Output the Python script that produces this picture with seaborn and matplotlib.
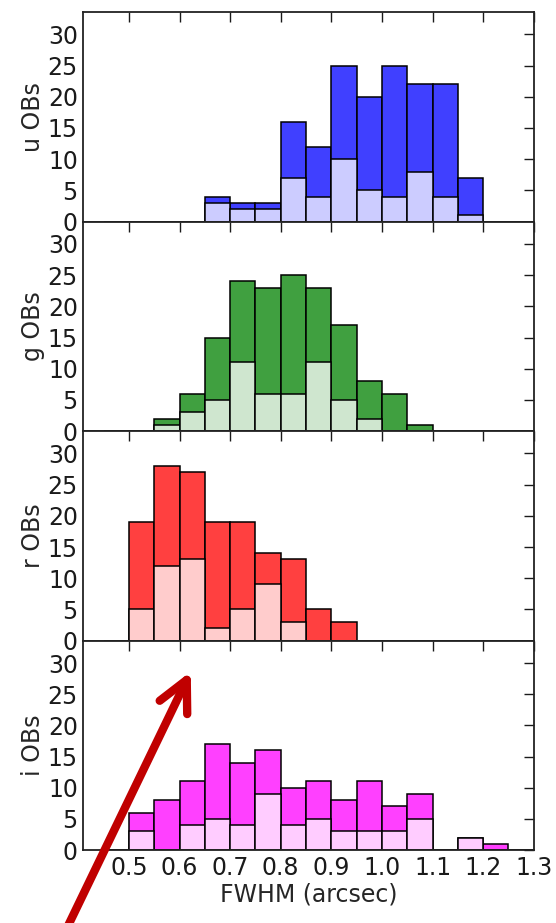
import numpy as np
import pandas as pd
import matplotlib
matplotlib.use("Agg")
import matplotlib.pyplot as plt
import seaborn as sns
from matplotlib.patches import FancyArrowPatch

# bin edges (arcsec)
edges = [0.45, 0.50, 0.55, 0.60, 0.65, 0.70, 0.75, 0.80, 0.85,
         0.90, 0.95, 1.00, 1.05, 1.10, 1.15, 1.20, 1.25, 1.30]

u_all = [0, 0, 0, 0, 4, 3, 3, 16, 12, 25, 20, 25, 22, 22, 7, 0, 0]
u_sub = [0, 0, 0, 0, 3, 2, 2, 7, 4, 10, 5, 4, 8, 4, 1, 0, 0]
g_all = [0, 0, 2, 6, 15, 24, 23, 25, 23, 17, 8, 6, 1, 0, 0, 0, 0]
g_sub = [0, 0, 1, 3, 5, 11, 6, 6, 11, 5, 2, 0, 0, 0, 0, 0, 0]
r_all = [0, 19, 28, 27, 19, 19, 14, 13, 5, 3, 0, 0, 0, 0, 0, 0, 0]
r_sub = [0, 5, 12, 13, 2, 5, 9, 3, 0, 0, 0, 0, 0, 0, 0, 0, 0]
i_all = [0, 6, 8, 11, 17, 14, 16, 10, 11, 8, 11, 7, 9, 0, 2, 1, 0]
i_sub = [0, 3, 0, 4, 5, 4, 9, 4, 5, 3, 3, 3, 5, 0, 2, 0, 0]

bands = ["u", "g", "r", "i"]
dark = ["#4040ff", "#40a040", "#ff4040", "#ff40ff"]
light = ["#ccccff", "#cfe6cf", "#ffcccc", "#ffccff"]
counts = [(u_all, u_sub), (g_all, g_sub), (r_all, r_sub), (i_all, i_sub)]

sns.set_style("white")
plt.rcParams["font.family"] = ["DejaVu Sans"]
plt.rcParams["font.size"] = 17

e = np.array(edges)
centers = (e[:-1] + e[1:]) / 2

fig, axes = plt.subplots(4, 1, figsize=(5.56, 9.23), dpi=100, sharex=True)
fig.subplots_adjust(left=0.15, right=0.96, top=0.987, bottom=0.079, hspace=0)

for ax, band, cd, cl, (tot, sub) in zip(axes, bands, dark, light, counts):
    df = pd.DataFrame({"fwhm": centers, "tot": tot, "sub": sub})
    sns.histplot(data=df, x="fwhm", weights="tot", bins=edges, color=cd, alpha=1,
                 edgecolor="black", linewidth=1.1, ax=ax)
    sns.histplot(data=df, x="fwhm", weights="sub", bins=edges, color=cl, alpha=1,
                 edgecolor="black", linewidth=1.1, ax=ax)
    ax.set_ylim(0, 33.6)
    ax.set_xlim(0.41, 1.3)
    ax.set_yticks([0, 5, 10, 15, 20, 25, 30])
    ax.set_ylabel(band + " OBs", fontsize=17, labelpad=2)
    ax.set_xlabel("")
    ax.tick_params(direction="in", length=7, width=1, top=True, right=True,
                   labelsize=17, colors="#1a1a1a", pad=4)
    for s in ax.spines.values():
        s.set_linewidth(1.3)
        s.set_color("#222222")

axes[-1].set_xticks([0.5, 0.6, 0.7, 0.8, 0.9, 1.0, 1.1, 1.2, 1.3])
axes[-1].set_xticklabels(["0.5", "0.6", "0.7", "0.8", "0.9", "1.0", "1.1", "1.2", "1.3"])
axes[-1].set_xlabel("FWHM (arcsec)", fontsize=17, labelpad=2)
fig.align_ylabels(axes)

# red annotation arrow on top of the figure
arrow = FancyArrowPatch((66 / 556, 1 - 930 / 923), (192 / 556, 1 - 669 / 923),
                        transform=fig.transFigure, arrowstyle="->,head_length=22,head_width=11",
                        color="#c00000", lw=6, capstyle="round", joinstyle="round",
                        mutation_scale=1, zorder=10)
fig.add_artist(arrow)

fig.savefig("out.png", dpi=100)
